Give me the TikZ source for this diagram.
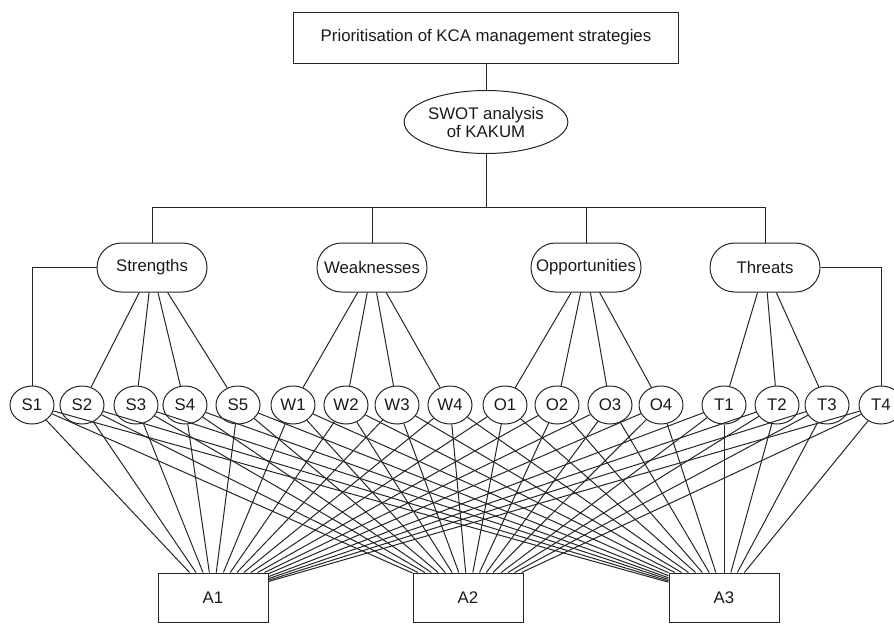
\documentclass[tikz,border=0pt]{standalone}
\usepackage{fontspec}
\setmainfont{Liberation Sans}
\usetikzlibrary{shapes.geometric,shapes.misc}
\begin{document}
\begin{tikzpicture}[x=1pt,y=-1pt,line width=1pt,draw=black!85,
  every node/.style={font=\fontsize{16.8}{18}\selectfont,text=black!90},
  topbox/.style={draw,rectangle,minimum width=385,minimum height=51,inner sep=0},
  swotell/.style={draw,ellipse,minimum width=137,minimum height=63,inner sep=0,align=center},
  catbox/.style={draw,rounded rectangle,minimum width=110,minimum height=49,inner sep=0},
  leaf/.style={draw,ellipse,minimum width=44,minimum height=38,inner sep=0},
  altbox/.style={draw,rectangle,minimum width=110,minimum height=49,inner sep=0}]
\useasboundingbox (0,0) rectangle (894,624);
\clip (0,0) rectangle (894,624);
\node[topbox] (top) at (486,37.5) {Prioritisation of KCA management strategies};
\node[swotell] (swot) at (486,122) {SWOT analysis\\of KAKUM};
\coordinate (hub) at (486,207);
\draw (top) -- (swot);
\draw (swot) -- (hub);
\node[catbox] (S) at (152,267.5) {Strengths};
\node[catbox] (W) at (372,267.5) {Weaknesses};
\node[catbox] (O) at (586,267.5) {Opportunities};
\node[catbox] (T) at (765,267.5) {Threats};
\draw (S.north) -- (S.north |- hub) -- (T.north |- hub) -- (T.north);
\draw (W.north) -- (W.north |- hub);
\draw (O.north) -- (O.north |- hub);
\foreach \n/\x in {S1/32,S2/82,S3/136,S4/185,S5/238,W1/293,W2/346,W3/397,W4/450,O1/505,O2/557,O3/610,O4/661,T1/724,T2/777,T3/827,T4/881}
  \node[leaf] (\n) at (\x,405) {\n};
\node[altbox] (A1) at (213,597.5) {A1};
\node[altbox] (A2) at (468,597.5) {A2};
\node[altbox] (A3) at (724,597.5) {A3};
\draw (S.west) -| (S1.north);
\draw (T.east) -| (T4.north);
\foreach \c in {S2,S3,S4,S5} \draw (S) -- (\c);
\foreach \c in {W1,W2,W3,W4} \draw (W) -- (\c);
\foreach \c in {O1,O2,O3,O4} \draw (O) -- (\c);
\foreach \c in {T1,T2,T3} \draw (T) -- (\c);
\foreach \c in {S1,S2,S3,S4,S5,W1,W2,W3,W4,O1,O2,O3,O4,T1,T2,T3,T4}
  \foreach \a in {A1,A2,A3}
    \draw (\c) -- (\a);
\end{tikzpicture}
\end{document}
